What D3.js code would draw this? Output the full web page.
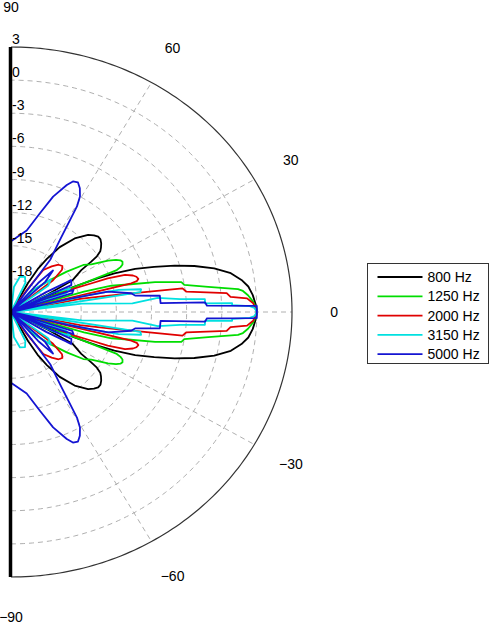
<!DOCTYPE html>
<html>
<head>
<meta charset="utf-8">
<script src="https://cdn.jsdelivr.net/npm/d3@7"></script>
<style>
  body { margin: 0; background: #fff; }
  text { font-family: "Liberation Sans", Arial, sans-serif; font-size: 14px; fill: #000; }
</style>
</head>
<body>
<svg id="chart" width="495" height="639"></svg>
<script>
// Legend labels and colours, in drawing order.
const freqLabels = ['800 Hz', '1250 Hz', '2000 Hz', '3150 Hz', '5000 Hz'];
const freqColors = ['#000000', '#00dd00', '#e00000', '#00e0e0', '#1414d2'];

// Level (dB) against angle (deg), read for 0..90 deg; the pattern is mirrored for -90..0.
// Anything below -21 dB sits on the centre.
const s800 = [[0,0],[2,-0.1],[4.3,-0.3],[6.5,-0.6],[8.4,-1.1],[10.6,-1.9],[12.8,-3.2],[14.9,-4.8],
  [16.7,-6.4],[18.5,-8.1],[20.2,-9.7],[21.6,-11.5],[22.4,-13],[23.5,-16],[25,-24],[27,-17.5],
  [28.7,-15],[32.3,-13.9],[33.6,-12.8],[34.5,-12.1],[35.8,-11.6],[37.2,-11.35],[38.9,-11.1],
  [40.7,-10.92],[42.5,-10.9],[44.4,-11.08],[46.7,-11.4],[50.8,-12.4],[54.7,-13.8],[57.5,-15.3],
  [59.6,-16.5],[61,-18],[63,-24],[90,-24]];
const s1250 = [[0,0],[1,-0.05],[2.6,-0.3],[4.3,-0.7],[5.5,-1.1],[6.1,-1.5],[7.7,-4],[9.4,-6],
  [10.5,-6.2],[12.4,-8.4],[14,-10.7],[15.5,-12.1],[16.5,-14.5],[18.5,-24],[22.8,-11.2],[23.5,-10.8],
  [24.3,-10.55],[25.5,-10.45],[26.6,-10.55],[27.8,-10.86],[29.3,-11.5],[32.2,-12.9],[34.6,-13.5],
  [37.5,-15],[41,-16.6],[46,-18.2],[49,-24],[90,-24]];
const s2000 = [[0,0],[2.2,-0.3],[3.5,-0.8],[4.2,-2.2],[5.3,-2.5],[7,-5.9],[8.3,-6.2],[8.8,-8.6],
  [10,-12.5],[11.5,-15],[12.5,-24],[14.2,-10.4],[14.6,-9.9],[15.4,-9.72],[16.6,-9.82],[17.6,-10.07],
  [19,-10.7],[20.2,-12.2],[20.7,-13.7],[21.5,-15.1],[22.5,-24],[35,-24],[38.7,-16.4],[41.3,-15.2],
  [43.5,-14.95],[46.5,-15.1],[50,-15.6],[54,-16.3],[56,-18.6],[58,-24],[90,-24]];
const s3150 = [[0,0],[1,-0.2],[1.5,-0.6],[1.9,-2.1],[2.4,-2.1],[2.7,-4.4],[4,-4.4],[4.6,-6.5],
  [5.8,-8.4],[4.3,-10.6],[7.2,-14.9],[8.5,-24],[9.3,-9.8],[10.5,-9.7],[12.3,-11.6],[13,-14],
  [14,-24],[17,-24],[20,-16],[23,-15.5],[26,-17],[28,-24],[34,-24],[37,-17],[41,-16.5],[45,-18],
  [48,-24],[60,-24],[65,-18.1],[69.4,-17.6],[76.5,-17.7],[83.6,-18.7],[88,-24],[90,-24]];
const s5000 = [[0,0],[1.5,0],[1.95,-4.25],[3,-4.4],[3.6,-8.2],[6.6,-8.2],[8,-10.3],[9.4,-10.6],
  [12.5,-12.5],[13.5,-16],[14.5,-24],[16.5,-24],[18,-15.5],[20.6,-15.3],[22,-17.5],[23,-24],
  [25.3,-15.3],[29.3,-15.1],[31,-17.5],[32,-24],[40,-24],[43,-17],[46.4,-15.8],[48.5,-17.5],
  [51,-24],[54.7,-15.2],[57.4,-13.2],[58.6,-11.6],[59.5,-9.9],[60.6,-9],[62.3,-8.35],[64,-7.95],
  [65.9,-8.05],[67.5,-8.55],[71,-9.95],[74.5,-11.7],[79.7,-13.5],[90,-14.6]];
const allSeries = [s800, s1250, s2000, s3150, s5000];

const ringTicks = [3, 0, -3, -6, -9, -12, -15, -18];   // radial tick labels (dB)
const angleTicks = [90, 60, 30, 0, -30, -60, -90];     // angle labels (deg)

// Plot geometry: the half-disc is stretched a bit horizontally.
const cx = 11, cy = 312, rx = 281, ry = 265;
const svg = d3.select('#chart');

const rScale = d3.scaleLinear().domain([-21, 3]).range([0, 1]).clamp(true);
const rad = d => d * Math.PI / 180;
const px = (a, v) => cx + rScale(v) * rx * Math.cos(rad(a));
const py = (a, v) => cy - rScale(v) * ry * Math.sin(rad(a));

const arcAngles = d3.range(-90, 90.5, 1);
const line = d3.line().x(d => px(d[0], d[1])).y(d => py(d[0], d[1]));

// dashed rings
svg.append('g').selectAll('path')
  .data(ringTicks.slice(1))
  .join('path')
  .attr('d', v => line(arcAngles.map(a => [a, v])))
  .attr('fill', 'none').attr('stroke', '#b0b0b0').attr('stroke-width', 1)
  .attr('stroke-dasharray', '5,4');

// dashed spokes
svg.append('g').selectAll('line')
  .data([60, 30, 0, -30, -60])
  .join('line')
  .attr('x1', cx).attr('y1', cy)
  .attr('x2', a => px(a, 3)).attr('y2', a => py(a, 3))
  .attr('stroke', '#b0b0b0').attr('stroke-width', 1).attr('stroke-dasharray', '5,4');

// outer boundary
svg.append('path')
  .attr('d', line(arcAngles.map(a => [a, 3])))
  .attr('fill', 'none').attr('stroke', '#333').attr('stroke-width', 1.2);

// curves, mirrored about 0 deg
const mirror = s => s.slice(1).reverse().map(p => [-p[0], p[1]]).concat(s);
svg.append('g').selectAll('path')
  .data(allSeries)
  .join('path')
  .attr('d', s => line(mirror(s)))
  .attr('fill', 'none')
  .attr('stroke', (s, i) => freqColors[i])
  .attr('stroke-width', 1.8)
  .attr('stroke-linejoin', 'round');

// thick vertical axis
svg.append('line')
  .attr('x1', cx - 0.5).attr('x2', cx - 0.5)
  .attr('y1', cy - ry).attr('y2', cy + ry)
  .attr('stroke', '#000').attr('stroke-width', 3.5);

// radial labels
svg.append('g').selectAll('text')
  .data(ringTicks)
  .join('text')
  .attr('x', 12)
  .attr('y', v => cy - rScale(v) * ry - 3)
  .text(v => String(v));

// angle labels
svg.append('g').selectAll('text')
  .data(angleTicks)
  .join('text')
  .attr('x', a => cx + 1.15 * rx * Math.cos(rad(a)))
  .attr('y', a => cy - 1.15 * ry * Math.sin(rad(a)))
  .attr('text-anchor', 'middle')
  .attr('dominant-baseline', 'central')
  .text(a => String(a).replace('-', '\u2212'));

// legend
const legend = svg.append('g').attr('transform', 'translate(367.5,263.5)');
legend.append('rect')
  .attr('width', 121).attr('height', 100)
  .attr('fill', '#fff').attr('stroke', '#333').attr('stroke-width', 1);
const rows = legend.selectAll('g.row')
  .data(freqLabels)
  .join('g').attr('class', 'row')
  .attr('transform', (d, i) => `translate(0,${13.5 + i * 19.3})`);
rows.append('line')
  .attr('x1', 10).attr('x2', 55)
  .attr('stroke', (d, i) => freqColors[i]).attr('stroke-width', 1.8);
rows.append('text')
  .attr('x', 60).attr('dominant-baseline', 'central')
  .text(d => d);
</script>
</body>
</html>
